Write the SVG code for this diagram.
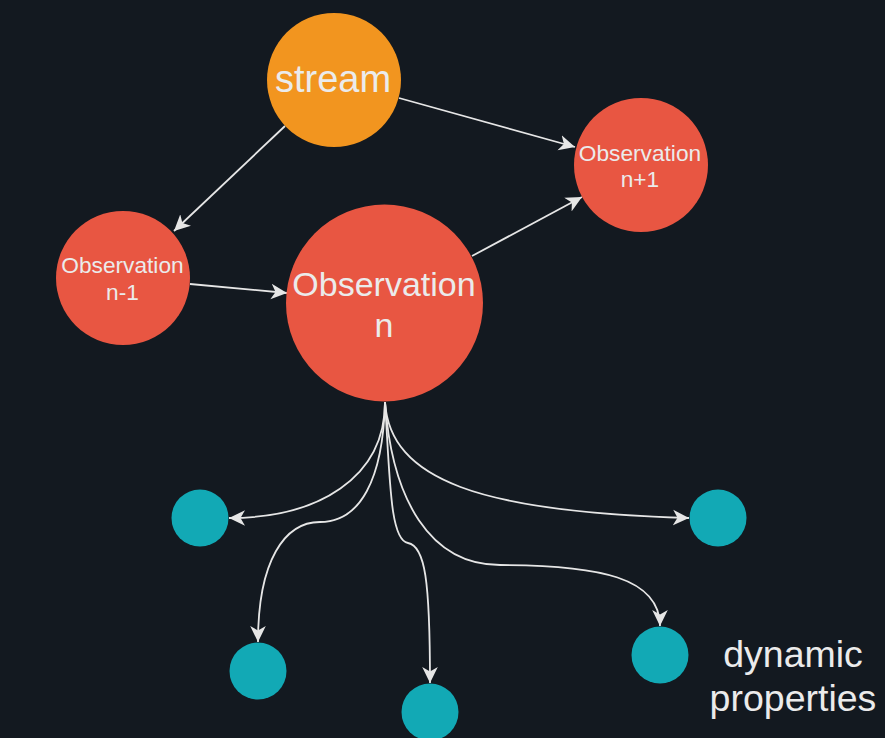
<svg xmlns="http://www.w3.org/2000/svg" width="885" height="738" viewBox="0 0 885 738">
  <style>
    .bg { fill: #131920; }
    .stream { fill: #f2951f; }
    .obs { fill: #e85642; }
    .prop { fill: #12a9b5; }
    .lbl { fill: #ebebeb; font-family: "Liberation Sans", Arial, Helvetica, sans-serif; text-anchor: middle; }
    .edge { fill: none; stroke: #e6e6e6; stroke-width: 1.8; marker-end: url(#arrow); }
  </style>
  <defs>
    <marker id="arrow" markerUnits="userSpaceOnUse" markerWidth="18" markerHeight="18" viewBox="0 0 18 18" refX="16" refY="9" orient="auto">
      <path d="M16,9 L0,1.2 L4.5,9 L0,16.8 Z" fill="#e6e6e6"/>
    </marker>
  </defs>

  <rect class="bg" x="0" y="0" width="885" height="738"/>

  <!-- connectors -->
  <g id="connectors">
    <path class="edge" d="M285,126 L174,231"/>
    <path class="edge" d="M399,98 L575,147"/>
    <path class="edge" d="M190,284 L287,293"/>
    <path class="edge" d="M472,256 L582,197"/>
    <!-- fan-out from Observation n to its dynamic properties -->
    <path class="edge" d="M385,402 C385,478 318,518 229,518"/>
    <path class="edge" d="M385,402 C383,480 360,522 320,522 C285,522 258,560 258,642"/>
    <path class="edge" d="M385,402 C390,480 390,540 408,543 C425,546 430,580 430,683"/>
    <path class="edge" d="M385,402 C392,500 430,565 500,565 C600,565 660,578 660,626"/>
    <path class="edge" d="M385,402 C390,480 480,512 689,518"/>
  </g>

  <g id="stream">
    <circle class="stream" cx="334" cy="80" r="67"/>
    <text class="lbl" x="333" y="92" font-size="38">stream</text>
  </g>

  <g id="obs-prev">
    <circle class="obs" cx="123" cy="278" r="67"/>
    <text class="lbl" x="122.5" y="273" font-size="22.7">Observation</text>
    <text class="lbl" x="122.5" y="300" font-size="22.7">n-1</text>
  </g>

  <g id="obs-next">
    <circle class="obs" cx="641" cy="165" r="67"/>
    <text class="lbl" x="640" y="161" font-size="22.7">Observation</text>
    <text class="lbl" x="640" y="187" font-size="22.7">n+1</text>
  </g>

  <g id="obs-current">
    <circle class="obs" cx="384.5" cy="303" r="98.5"/>
    <text class="lbl" x="384" y="296" font-size="34">Observation</text>
    <text class="lbl" x="384" y="337" font-size="34">n</text>
  </g>

  <g id="prop-1"><circle class="prop" cx="200" cy="518" r="28.5"/></g>
  <g id="prop-2"><circle class="prop" cx="258" cy="671" r="28.5"/></g>
  <g id="prop-3"><circle class="prop" cx="430" cy="712" r="28.5"/></g>
  <g id="prop-4"><circle class="prop" cx="660" cy="655" r="28.5"/></g>
  <g id="prop-5"><circle class="prop" cx="718" cy="518" r="28.5"/></g>

  <g id="legend">
    <text class="lbl" x="793" y="667" font-size="37.5">dynamic</text>
    <text class="lbl" x="793" y="711" font-size="37.5">properties</text>
  </g>
</svg>
